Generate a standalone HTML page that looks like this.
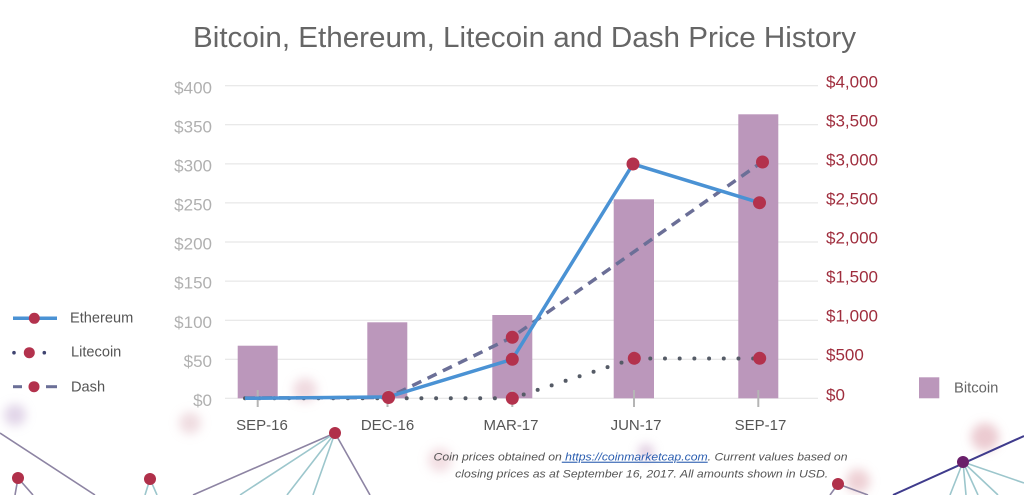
<!DOCTYPE html>
<html><head><meta charset="utf-8"><style>
html,body{margin:0;padding:0;background:#fff;}
svg{display:block;}
text{font-family:"Liberation Sans",Arial,sans-serif;}
</style></head><body>
<svg width="1024" height="495" viewBox="0 0 1024 495" xmlns="http://www.w3.org/2000/svg">
<defs>
<filter id="bl" x="-100%" y="-100%" width="300%" height="300%"><feGaussianBlur stdDeviation="5"/></filter>
</defs>
<rect width="1024" height="495" fill="#fff"/>
<!-- background blobs -->
<g filter="url(#bl)" opacity="0.55">
<circle cx="15" cy="415" r="11" fill="#c9b3d6"/>
<circle cx="190" cy="423" r="11" fill="#e3c0c8"/>
<circle cx="305" cy="390" r="12" fill="#e3bcc6"/>
<circle cx="440" cy="460" r="12" fill="#e8c3cb"/>
<circle cx="646" cy="452" r="8" fill="#c8a5c8"/>
<circle cx="985" cy="437" r="14" fill="#dca0ab"/>
<circle cx="858" cy="481" r="12" fill="#e0aab2"/>
</g>
<!-- network -->
<g stroke-width="1.6" fill="none">
<line x1="0" y1="433" x2="95" y2="495" stroke="#8d84a3"/>
<line x1="18" y1="478" x2="15" y2="495" stroke="#8d84a3"/>
<line x1="18" y1="478" x2="33" y2="495" stroke="#8d84a3"/>
<line x1="150" y1="479" x2="145" y2="495" stroke="#9cc6cc"/>
<line x1="150" y1="479" x2="157" y2="495" stroke="#9cc6cc"/>
<line x1="335" y1="433" x2="193" y2="495" stroke="#8d84a3"/>
<line x1="335" y1="433" x2="240" y2="495" stroke="#9cc6cc"/>
<line x1="335" y1="433" x2="287" y2="495" stroke="#9cc6cc"/>
<line x1="335" y1="433" x2="313" y2="495" stroke="#9cc6cc"/>
<line x1="335" y1="433" x2="370" y2="495" stroke="#8d84a3"/>
<line x1="838" y1="484" x2="830" y2="495" stroke="#8d84a3"/>
<line x1="838" y1="484" x2="868" y2="495" stroke="#8d84a3"/>
<line x1="963" y1="462" x2="950" y2="495" stroke="#9cc6cc"/>
<line x1="963" y1="462" x2="966" y2="495" stroke="#9cc6cc"/>
<line x1="963" y1="462" x2="978" y2="495" stroke="#9cc6cc"/>
<line x1="963" y1="462" x2="998" y2="495" stroke="#9cc6cc"/>
<line x1="963" y1="462" x2="1024" y2="483" stroke="#9cc6cc"/>
<line x1="893" y1="495" x2="1024" y2="436" stroke="#3f3b8c" stroke-width="2"/>
</g>
<circle cx="335" cy="433" r="6" fill="#b0304a"/>
<circle cx="150" cy="479" r="6" fill="#b0304a"/>
<circle cx="18" cy="478" r="6" fill="#b0304a"/>
<circle cx="838" cy="484" r="6" fill="#b0304a"/>
<circle cx="963" cy="462" r="6" fill="#6a1f6a"/>

<!-- title -->
<text x="193" y="47" font-size="29" fill="#666" textLength="663" lengthAdjust="spacingAndGlyphs">Bitcoin, Ethereum, Litecoin and Dash Price History</text>

<!-- grid -->
<g stroke="#e2e2e2" stroke-width="1">
<line x1="225" y1="85.7" x2="818" y2="85.7"/>
<line x1="225" y1="124.8" x2="818" y2="124.8"/>
<line x1="225" y1="163.9" x2="818" y2="163.9"/>
<line x1="225" y1="202.9" x2="818" y2="202.9"/>
<line x1="225" y1="242" x2="818" y2="242"/>
<line x1="225" y1="281.1" x2="818" y2="281.1"/>
<line x1="225" y1="320.2" x2="818" y2="320.2"/>
<line x1="225" y1="359.2" x2="818" y2="359.2"/>
<line x1="225" y1="398.3" x2="818" y2="398.3"/>
</g>

<!-- left labels -->
<g font-size="17" fill="#b0b0b0" text-anchor="end">
<text x="212" y="93.3">$400</text>
<text x="212" y="132.4">$350</text>
<text x="212" y="171.5">$300</text>
<text x="212" y="210.5">$250</text>
<text x="212" y="249.6">$200</text>
<text x="212" y="288.7">$150</text>
<text x="212" y="327.8">$100</text>
<text x="212" y="366.8">$50</text>
<text x="212" y="405.9">$0</text>
</g>
<!-- right labels -->
<g font-size="17" fill="#9f2d3d">
<text x="826" y="87.7">$4,000</text>
<text x="826" y="126.6">$3,500</text>
<text x="826" y="165.6">$3,000</text>
<text x="826" y="204.6">$2,500</text>
<text x="826" y="243.6">$2,000</text>
<text x="826" y="282.6">$1,500</text>
<text x="826" y="321.6">$1,000</text>
<text x="826" y="360.6">$500</text>
<text x="826" y="400.3">$0</text>
</g>

<!-- bars -->
<g fill="#bb97bb">
<rect x="237.7" y="345.7" width="40" height="52.6"/>
<rect x="367.3" y="322.3" width="40" height="76"/>
<rect x="492.3" y="315" width="40" height="83.3"/>
<rect x="613.7" y="199.3" width="40.3" height="199"/>
<rect x="738.3" y="114.3" width="40" height="284"/>
</g>
<!-- ticks -->
<g stroke="#b5b5b5" stroke-width="2">
<line x1="257.7" y1="390" x2="257.7" y2="407"/>
<line x1="387.5" y1="390" x2="387.5" y2="407"/>
<line x1="512.3" y1="390" x2="512.3" y2="407"/>
<line x1="634" y1="390" x2="634" y2="407"/>
<line x1="758.3" y1="390" x2="758.3" y2="407"/>
</g>

<!-- x labels -->
<g font-size="15" fill="#555" text-anchor="middle">
<text x="262" y="430">SEP-16</text>
<text x="387.5" y="430">DEC-16</text>
<text x="511" y="430">MAR-17</text>
<text x="636" y="430">JUN-17</text>
<text x="760.5" y="430">SEP-17</text>
</g>

<!-- Litecoin dotted -->
<polyline points="245,398.3 388,398.3 512,398.3 634,358.5 760,358.5" fill="none" stroke="#555b66" stroke-width="4" stroke-linecap="round" stroke-dasharray="0 14.7"/>
<!-- Dash dashed -->
<polyline points="245,398 388,397.5 512,337.3 762,162" fill="none" stroke="#6b6f97" stroke-width="3.5" stroke-dasharray="10 7"/>
<!-- Ethereum solid -->
<polyline points="245,398.3 388,397 512.3,359.3 633,164 759.5,202.7" fill="none" stroke="#4a92d4" stroke-width="3.5" stroke-linejoin="round"/>

<!-- markers -->
<g fill="#b3324d">
<circle cx="388.5" cy="397.5" r="6.5"/>
<circle cx="512.3" cy="359.3" r="6.5"/>
<circle cx="512.3" cy="337.3" r="6.5"/>
<circle cx="512.3" cy="398.3" r="6.5"/>
<circle cx="633" cy="164" r="6.5"/>
<circle cx="634.3" cy="358.3" r="6.5"/>
<circle cx="759.5" cy="202.7" r="6.5"/>
<circle cx="762.5" cy="162" r="6.5"/>
<circle cx="759.7" cy="358.3" r="6.5"/>
</g>

<!-- left legend -->
<line x1="13" y1="318.3" x2="57" y2="318.3" stroke="#4a92d4" stroke-width="3.5"/>
<circle cx="34.3" cy="318.3" r="5.5" fill="#b3324d"/>
<text x="70" y="322.3" font-size="14.6" fill="#555">Ethereum</text>

<circle cx="14" cy="352.7" r="1.8" fill="#3f4470"/>
<circle cx="44.3" cy="352.7" r="1.8" fill="#3f4470"/>
<circle cx="29.3" cy="352.7" r="5.5" fill="#b3324d"/>
<text x="71" y="356.7" font-size="14.6" fill="#555">Litecoin</text>

<line x1="13" y1="386.7" x2="22" y2="386.7" stroke="#6b6f97" stroke-width="3"/>
<line x1="46" y1="386.7" x2="57" y2="386.7" stroke="#6b6f97" stroke-width="3"/>
<circle cx="34" cy="386.7" r="5.5" fill="#b3324d"/>
<text x="71" y="391.7" font-size="14.6" fill="#555">Dash</text>

<!-- right legend -->
<rect x="919" y="377.3" width="20.3" height="21" fill="#bb97bb"/>
<text x="954" y="392.7" font-size="14.8" fill="#666">Bitcoin</text>

<!-- footnote -->
<g font-size="11" font-style="italic" fill="#555" text-anchor="middle">
<text x="640.5" y="460.7" textLength="414" lengthAdjust="spacingAndGlyphs">Coin prices obtained on<tspan fill="#2a5db0" text-decoration="underline"> https://coinmarketcap.com</tspan>. Current values based on</text>
<text x="641.7" y="477.3" textLength="373" lengthAdjust="spacingAndGlyphs">closing prices as at September 16, 2017. All amounts shown in USD.</text>
</g>
</svg>
</body></html>
